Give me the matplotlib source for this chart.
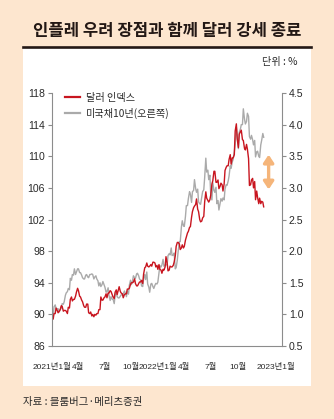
import matplotlib
matplotlib.use('Agg')
import matplotlib.pyplot as plt
from matplotlib import font_manager as fm
from matplotlib.patches import Rectangle
from matplotlib.lines import Line2D
from matplotlib.transforms import ScaledTranslation
import pandas as pd

# ---------------- data (semi-weekly: Tue / Fri) ----------------
start_date = '2021-01-01'
end_date = '2022-12-30'
dollar_index = [
    # 2021
    89.9, 89.4, 90.1, 90.1, 90.8, 90.5, 90.2, 90.4, 90.6,
    91.1, 91.0, 90.4, 90.5, 90.5, 90.4, 90.1, 90.9,
    90.8, 91.9, 92.2, 91.7, 91.9, 91.9, 92.3, 92.8, 93.3,
    93.0, 92.3, 92.2, 91.8, 91.6, 91.1, 90.9, 90.9, 91.3,
    91.3, 90.2, 90.1, 90.3, 89.8, 90.0, 89.7, 90.0,
    89.9, 90.1, 90.1, 90.6, 90.6, 92.2, 91.8, 91.8, 92.1,
    92.2, 92.6, 92.1, 92.7, 92.7, 93.0, 92.9, 92.5, 92.2,
    92.0, 92.8, 93.1, 92.5, 93.1, 93.5, 92.9, 92.7, 92.6,
    92.1, 92.5, 92.6, 92.6, 93.2, 93.2, 93.3, 93.8,
    94.0, 94.0, 94.1, 94.5, 93.9, 93.6, 93.6, 93.9, 94.1,
    94.1, 94.3, 93.9, 95.1, 95.9, 96.0, 96.5, 96.1, 96.0,
    96.1, 96.3, 96.1, 96.6, 96.6, 96.5, 96.0, 96.2, 95.7,
    # 2022
    96.3, 95.7, 95.6, 95.2, 95.7, 95.6, 96.0, 97.3,
    96.5, 95.5, 95.6, 96.1, 96.0, 96.0, 96.2, 96.6,
    97.4, 98.6, 99.1, 99.1, 98.9, 98.2, 98.4, 98.8, 98.4,
    98.6, 99.4, 99.8, 100.3, 100.5, 101.0, 101.1, 102.3, 103.0,
    103.5, 103.7, 103.9, 104.6, 103.3, 103.0, 102.0, 101.7, 101.8,
    102.2, 102.4, 104.2, 105.5, 104.7, 104.4, 104.2, 104.5,
    105.1, 106.5, 106.9, 108.1, 108.1, 106.7, 106.7, 107.0, 105.9,
    106.2, 106.6, 106.4, 105.6, 106.5, 108.2, 108.6, 108.8, 108.8,
    109.6, 110.2, 109.0, 109.8, 109.8, 110.2, 113.2, 114.1, 112.2,
    111.1, 112.8, 113.1, 113.3, 112.1, 112.0, 111.0, 110.8,
    111.5, 110.9, 109.7, 106.3, 106.4, 107.0, 107.2, 106.0, 106.8,
    104.5, 105.6, 104.8, 104.0, 104.7, 104.0, 104.3, 104.2, 103.6,
]
us10y = [
    # 2021
    0.92, 0.96, 1.12, 1.15, 1.09, 1.09, 1.09, 1.04, 1.07,
    1.10, 1.17, 1.16, 1.20, 1.30, 1.34, 1.36, 1.41,
    1.39, 1.57, 1.54, 1.63, 1.62, 1.72, 1.63, 1.67, 1.72,
    1.72, 1.66, 1.66, 1.62, 1.58, 1.56, 1.56, 1.62, 1.63,
    1.59, 1.58, 1.63, 1.63, 1.64, 1.63, 1.56, 1.59,
    1.61, 1.56, 1.53, 1.45, 1.50, 1.44, 1.47, 1.52, 1.47,
    1.43, 1.35, 1.36, 1.42, 1.30, 1.22, 1.28, 1.24, 1.24,
    1.17, 1.30, 1.36, 1.28, 1.26, 1.26, 1.29, 1.31, 1.31,
    1.32, 1.37, 1.34, 1.28, 1.37, 1.32, 1.46, 1.54,
    1.47, 1.53, 1.61, 1.58, 1.57, 1.64, 1.65, 1.61, 1.56,
    1.54, 1.45, 1.44, 1.56, 1.63, 1.55, 1.67, 1.48, 1.43,
    1.35, 1.48, 1.49, 1.44, 1.41, 1.46, 1.49, 1.48, 1.51,
    # 2022
    1.66, 1.77, 1.75, 1.78, 1.87, 1.76, 1.78, 1.78,
    1.79, 1.93, 1.96, 1.94, 2.05, 1.93, 1.94, 1.97,
    1.72, 1.74, 1.86, 2.00, 2.15, 2.15, 2.38, 2.48, 2.40,
    2.39, 2.55, 2.72, 2.72, 2.83, 2.94, 2.90, 2.77, 2.94,
    2.96, 3.13, 2.99, 2.93, 2.98, 2.78, 2.75, 2.74, 2.85,
    2.94, 2.97, 3.16, 3.47, 3.25, 3.28, 3.13, 3.20,
    2.88, 2.81, 3.08, 2.96, 2.93, 3.01, 2.75, 2.80, 2.65,
    2.75, 2.83, 2.79, 2.84, 2.81, 2.98, 3.05, 3.04, 3.11,
    3.19, 3.35, 3.31, 3.41, 3.45, 3.57, 3.69, 3.96, 3.83,
    3.62, 3.88, 3.93, 4.00, 4.00, 4.25, 4.09, 4.01,
    4.05, 4.18, 4.13, 3.81, 3.77, 3.83, 3.76, 3.68, 3.75,
    3.49, 3.57, 3.58, 3.50, 3.48, 3.68, 3.75, 3.86, 3.80,
]
tick_dates = ['2021-01-01', '2021-04-01', '2021-07-01', '2021-10-01',
              '2022-01-01', '2022-04-01', '2022-07-01', '2022-10-01',
              '2023-01-01']
tick_labels = ['2021년1월', '4월', '7월', '10월', '2022년1월', '4월', '7월',
               '10월', '2023년1월']
left_ticks = [86, 90, 94, 98, 102, 106, 110, 114, 118]
right_ticks = [0.5, 1.0, 1.5, 2.0, 2.5, 3.0, 3.5, 4.0, 4.5]
series_names = ['달러 인덱스', '미국채10년(오른쪽)']
arrow_date = '2023-01-16'
arrow_range = (105.8, 110.2)

title = '인플레 우려 장점과 함께 달러 강세 종료'
unit = '단위 : %'
source = '자료 : 블룸버그·메리츠증권'

# ---------------- fonts ----------------
names = {f.name for f in fm.fontManager.ttflist}
KR = 'Noto Sans CJK KR'
NARROW = 'Liberation Sans Narrow' if 'Liberation Sans Narrow' in names else 'Liberation Sans'
plt.rcParams['font.family'] = [KR, 'DejaVu Sans']

W, H = 334, 419
BG = '#fde6cf'
RED = '#c8151f'
GRAY = '#aaaaaa'
AX = '#8c8c8c'
TXT = '#2a2a2a'

fig = plt.figure(figsize=(W / 100, H / 100), dpi=100)
fig.patch.set_facecolor(BG)

fig.add_artist(Rectangle((23 / W, 1 - 386 / H), 288 / W, 339 / H,
                         transform=fig.transFigure, fc='white', ec='none', zorder=-2))
fig.add_artist(Line2D([23 / W, 311 / W], [1 - 47 / H] * 2, transform=fig.transFigure,
                      color='#231815', lw=1.9, zorder=-1))
fig.text(0.5, 1 - 31 / H, title, ha='center', va='center', fontsize=12,
         fontweight='bold', color='#231815', family=[KR])
fig.text(297 / W, 1 - 62.5 / H, unit, ha='right', va='center', fontsize=7.3,
         color=TXT, family=[KR])
fig.text(23 / W, 1 - 402 / H, source, ha='left', va='center', fontsize=7.5,
         color=TXT, family=[KR])

dates = pd.date_range(start_date, end_date, freq='W-TUE').union(
    pd.date_range(start_date, end_date, freq='W-FRI'))
assert len(dates) == len(dollar_index) == len(us10y)

ax = fig.add_axes([52 / W, 1 - 346 / H, 230 / W, 253 / H])
ax2 = ax.twinx()
ax.set_zorder(ax2.get_zorder() + 1)
ax.patch.set_visible(False)
ax2.patch.set_visible(False)

ax2.plot(dates, us10y, color=GRAY, lw=1.0)
ax.plot(dates, dollar_index, color=RED, lw=1.0)

ax.set_xlim(pd.Timestamp('2021-01-01'), pd.Timestamp('2023-03-03'))
ax.set_ylim(left_ticks[0], left_ticks[-1])
ax2.set_ylim(right_ticks[0], right_ticks[-1])
ax.set_yticks(left_ticks)
ax.set_yticklabels([str(v) for v in left_ticks])
ax2.set_yticks(right_ticks)
ax2.set_yticklabels([f'{v:.1f}' for v in right_ticks])

ax.set_xticks(pd.to_datetime(tick_dates))
ax.set_xticklabels(tick_labels)
ax.tick_params(axis='x', length=0, pad=12, labelsize=6.0, labelcolor=TXT)
for lab in ax.get_xticklabels():
    lab.set_family([NARROW, KR])
last = ax.get_xticklabels()[-1]
last.set_transform(last.get_transform() + ScaledTranslation(12 / 100, 0, fig.dpi_scale_trans))

ax.tick_params(axis='y', left=True, right=False, length=2.9, width=0.8, color=AX,
               pad=2, labelsize=7.6, labelcolor=TXT)
ax2.tick_params(axis='y', right=True, left=False, length=2.9, width=0.8, color=AX,
                pad=2, labelsize=7.6, labelcolor=TXT)
for lab in ax.get_yticklabels() + ax2.get_yticklabels():
    lab.set_family([NARROW, KR])

for s in ['top', 'right']:
    ax.spines[s].set_visible(False)
for s in ['top', 'left', 'bottom']:
    ax2.spines[s].set_visible(False)
for sp in [ax.spines['left'], ax.spines['bottom'], ax2.spines['right']]:
    sp.set_color(AX)
    sp.set_linewidth(0.8)

handles = [Line2D([], [], color=RED, lw=1.6), Line2D([], [], color=GRAY, lw=1.6)]
ax.legend(handles, series_names, loc='upper left', bbox_to_anchor=(0.057, 1.0),
          frameon=False, borderpad=0, borderaxespad=0, handlelength=1.5,
          handletextpad=0.6, labelspacing=0.45,
          prop=fm.FontProperties(family=[KR], size=7.3), labelcolor=TXT)

ax.annotate('', xy=(pd.Timestamp(arrow_date), arrow_range[1]),
            xytext=(pd.Timestamp(arrow_date), arrow_range[0]),
            arrowprops=dict(arrowstyle='<|-|>,head_length=0.45,head_width=0.3',
                            color='#f5b57a', lw=2.4, mutation_scale=10,
                            shrinkA=0, shrinkB=0))

fig.savefig('out.png', dpi=100, facecolor=BG)
